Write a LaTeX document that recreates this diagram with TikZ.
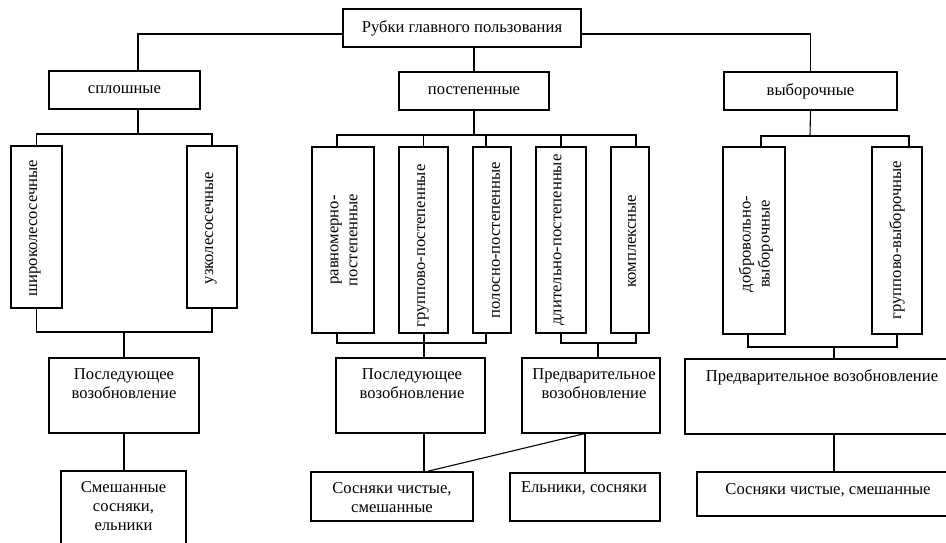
\documentclass[tikz,border=0pt]{standalone}
\usepackage{fontspec}
\setmainfont{Liberation Serif}
\begin{document}
\begin{tikzpicture}[x=1pt,y=-1pt, line width=1.1pt,
  box/.style={draw, line width=1.1pt, inner sep=0pt},
  txt/.style={font=\fontsize{16.6}{19}\selectfont, align=center, inner sep=0pt},
  vtxt/.style={txt, rotate=90}]
\clip (0,0) rectangle (946,542);
\newcommand\bx[5]{\node[box, minimum width=#4pt, minimum height=#5pt] (#1) at (#2,#3) {};}
% level 0-1
\bx{top}{462}{28}{238}{38}
\bx{splosh}{124.5}{90}{151}{38}
\bx{postep}{474}{91}{150}{38}
\bx{vybor}{810.5}{91}{173}{38}
\node[txt] (ttop) at (462,28) {Рубки главного пользования};
\node[txt] (tsplosh) at (124.5,90) {сплошные};
\node[txt] (tpostep) at (474,91) {постепенные};
\node[txt] (tvybor) at (810.5,91) {выборочные};
% vertical boxes
\bx{shir}{36.5}{227}{51}{162}
\bx{uzk}{212}{227}{50}{162}
\bx{ra}{343}{240}{62}{186}
\bx{gp}{423.5}{240}{49}{186}
\bx{pp}{492}{240}{38}{186}
\bx{dp}{561}{240}{50}{186}
\bx{ko}{630}{240}{38}{186}
\bx{dv}{754}{240.5}{62}{187}
\bx{gv}{897}{240.5}{50}{187}
\node[vtxt] (tshir) at (35,228) {широколесосечные};
\node[vtxt] (tuzk) at (211,228) {узколесосечные};
\node[vtxt] (tra) at (344,240) {равномерно-\\постепенные};
\node[vtxt] (tgp) at (423,246) {группово-постепенные};
\node[vtxt] (tpp) at (496,240) {полосно-постепенные};
\node[vtxt] (tdp) at (559,240) {длительно-постепенные};
\node[vtxt] (tko) at (632,241) {комплексные};
\node[vtxt] (tdv) at (756,244) {добровольно-\\выборочные};
\node[vtxt] (tgv) at (897,240) {группово-выборочные};
% renewal boxes
\bx{posl1}{124}{395.5}{150}{75}
\bx{posl2}{410.5}{395.5}{149}{75}
\bx{pred1}{591}{395.5}{138}{75}
\bx{pred2}{817.5}{396.5}{265}{75}
\node[txt] (tposl1) at (124,384) {Последующее\\возобновление};
\node[txt] (tposl2) at (412,384) {Последующее\\возобновление};
\node[txt] (tpred1) at (594,384) {Предварительное\\возобновление};
\node[txt] (tpred2) at (822,377) {Предварительное возобновление};
% species boxes
\bx{smesh}{123.5}{510}{125}{78}
\bx{sosn1}{392}{496.5}{162}{49}
\bx{eln}{585}{497}{150}{48}
\bx{sosn3}{823.5}{494}{253}{44}
\node[txt] (tsmesh) at (123.5,506) {Смешанные\\сосняки,\\ельники};
\node[txt] (tsosn1) at (392,498) {Сосняки чистые,\\смешанные};
\node[txt] (teln) at (584,488) {Ельники, сосняки};
\node[txt] (tsosn3) at (828,490) {Сосняки чистые, смешанные};
% bus coordinates
\coordinate (sb) at (138,134);
\coordinate (sb2) at (124,332);
\coordinate (mt) at (474,135);
\coordinate (mb1) at (424,343);
\coordinate (mb2) at (598,343);
\coordinate (rt) at (810,136);
\coordinate (rb) at (834,347);
% connectors top
\draw ([yshift=-6pt]top.west) -| ([xshift=13.5pt]splosh.north);
\draw ([yshift=-6pt]top.east) -| (vybor.north);
\draw (postep.north |- top.south) -- (postep.north);
% splosh group
\draw ([xshift=13.5pt]splosh.south) -- (sb);
\draw (shir.north) |- (sb) -| (uzk.north);
\draw (shir.south) |- (sb2) -| (uzk.south);
\draw (sb2) -- (posl1.north);
\draw (posl1.south) -- (posl1.south |- smesh.north);
% postep group
\draw (postep.south) -- (mt);
\draw ([xshift=-6pt]ra.north) |- (mt) -| ([xshift=6pt]ko.north);
\draw (gp.north) -- (gp.north |- mt);
\draw ([xshift=-6pt]pp.north) -- ([xshift=-6pt]pp.north |- mt);
\draw (dp.north) -- (dp.north |- mt);
\draw ([xshift=-6pt]ra.south) |- (mb1) -| ([xshift=-6pt]pp.south);
\draw (mb1 |- gp.south) -- (mb1) -- (mb1 |- posl2.north);
\draw (dp.south) |- (mb2) -| ([xshift=6pt]ko.south);
\draw (mb2) -- (mb2 |- pred1.north);
\draw (mb1 |- posl2.south) -- (mb1 |- sosn1.north);
\draw ([xshift=-6pt]pred1.south) -- ([xshift=-6pt]pred1.south |- eln.north);
\draw ([xshift=-6pt]pred1.south) -- ([xshift=35pt]sosn1.north);
% vybor group
\draw (vybor.south) -- (rt);
\draw ([xshift=7pt]dv.north) |- (rt) -| ([xshift=12pt]gv.north);
\draw ([xshift=-6pt]dv.south) |- (rb) -| (gv.south);
\draw (rb) -- (rb |- pred2.north);
\draw (rb |- pred2.south) -- (rb |- sosn3.north);
\end{tikzpicture}
\end{document}
